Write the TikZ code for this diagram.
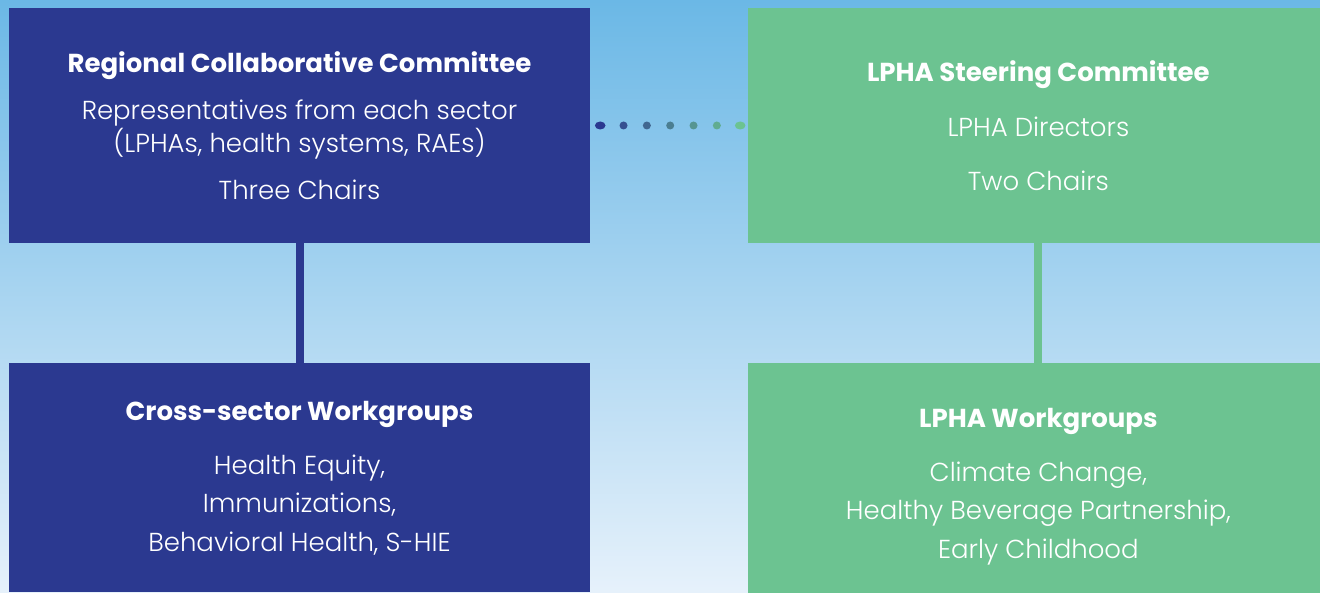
\documentclass[tikz,border=0pt]{standalone}
\usepackage{fontspec}
\setmainfont{Poppins}[UprightFont=* Light, BoldFont=* Bold]
\usepackage{tikz}
\usetikzlibrary{positioning,calc}
\definecolor{rccblue}{HTML}{2B3990}
\definecolor{lphagreen}{HTML}{6CC391}
\definecolor{skytop}{HTML}{6BB8E6}
\definecolor{skybot}{HTML}{E6F1FB}
\tikzstyle{rccbox}=[rectangle,fill=rccblue,text=white,minimum width=581pt,minimum height=235pt,inner sep=0pt,align=center]
\tikzstyle{lphabox}=[rccbox,fill=lphagreen]
\tikzstyle{link}=[line width=8pt]
\newcommand{\boxhead}[1]{{\fontsize{26}{28}\bfseries #1}}

\begin{document}
\begin{tikzpicture}[x=1pt,y=1pt]

    % Rahmen
    \useasboundingbox (0,0) rectangle (1320,592);
    \clip (0,0) rectangle (1320,592);
    \fill[top color=skytop,bottom color=skybot] (0,0) rectangle (1320,592);

    % Knoten
    \node[rccbox, font=\fontsize{26}{33}\selectfont] (rcc) at (299.5,466.5) {\boxhead{Regional Collaborative Committee}\\[14pt]
        Representatives from each sector\\(LPHAs, health systems, RAEs)\\[14pt] Three Chairs};
    \node[lphabox, font=\fontsize{26}{33}\selectfont] (lsc) [right=157.5pt of rcc] {\boxhead{LPHA Steering Committee}\\[22pt]
        LPHA Directors\\[21pt] Two Chairs};
    \node[rccbox, minimum height=229pt, font=\fontsize{26}{38.5}\selectfont] (cwg) [below=120pt of rcc] {\boxhead{Cross-sector Workgroups}\\[15.5pt]
        Health Equity,\\Immunizations,\\Behavioral Health, S-HIE};
    \node[lphabox, minimum height=246pt, font=\fontsize{26}{38.5}\selectfont] (lwg) [below=120pt of lsc] {\boxhead{LPHA Workgroups}\\[15.5pt]
        Climate Change,\\Healthy Beverage Partnership,\\Early Childhood};

    % Verbindungen
    \draw [link, rccblue] (rcc) -- (cwg);
    \draw [link, lphagreen] (lsc) -- (lwg);
    \foreach \i in {0,...,6} {
        \pgfmathsetmacro{\mix}{100-\i*100/6}
        \ifnum\i=0 \def\rx{5.3}\else\ifnum\i=6 \def\rx{5.3}\else\def\rx{4}\fi\fi
        \fill[rccblue!\mix!lphagreen] ($(rcc.east)+(10+\i*23.33,0)$) ellipse ({\rx} and 4);
    }

\end{tikzpicture}
\end{document}
